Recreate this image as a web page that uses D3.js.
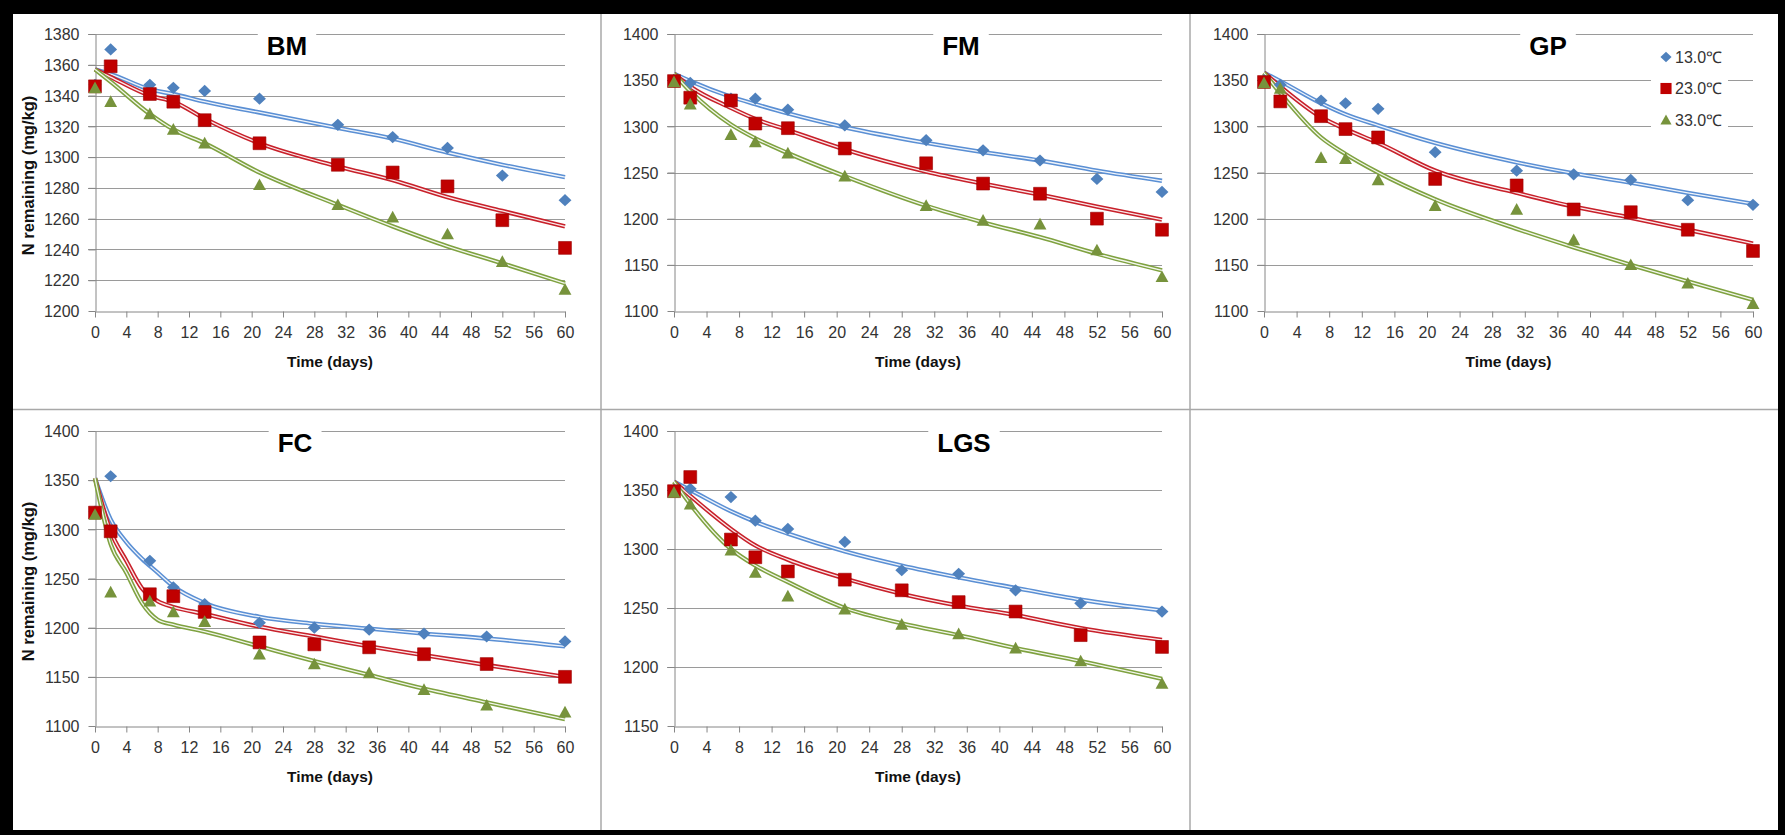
<!DOCTYPE html>
<html>
<head>
<meta charset="utf-8">
<script src="https://cdn.jsdelivr.net/npm/d3@7"></script>
<style>
  body { margin: 0; background: #000; }
  svg { display: block; }
  text { font-family: "Liberation Sans", Arial, sans-serif; }
</style>
</head>
<body>
<svg id="chart" width="1785" height="835"></svg>
<script>
// ---- data ----
const panelNames = ["BM", "FM", "GP", "FC", "LGS"];
const tempLabels = ["13.0℃", "23.0℃", "33.0℃"];

const xTicks = [0, 4, 8, 12, 16, 20, 24, 28, 32, 36, 40, 44, 48, 52, 56, 60];
const yTicksBM = [1200, 1220, 1240, 1260, 1280, 1300, 1320, 1340, 1360, 1380];
const yTicksFull = [1100, 1150, 1200, 1250, 1300, 1350, 1400];
const yTicksLGS = [1150, 1200, 1250, 1300, 1350, 1400];

// sampling days
const daysA = [0, 2, 7, 10, 14, 21, 31, 38, 45, 52, 60];
const daysB = [0, 2, 7, 10, 14, 21, 28, 35, 42, 50, 60];
const fitDaysFC = [0, 2, 4, 6, 8, 10, 14, 21, 28, 35, 42, 50, 60];

// measured N remaining (mg/kg)
const bm13 = [1347, 1370, 1347, 1345, 1343, 1338, 1321, 1313, 1306, 1288, 1272];
const bm23 = [1346, 1359, 1341, 1336, 1324, 1309, 1295, 1290, 1281, 1259, 1241];
const bm33 = [1345, 1336, 1328, 1318, 1309, 1282, 1269, 1261, 1250, 1232, 1214];
const fm13 = [1350, 1347, 1330, 1330, 1318, 1301, 1285, 1274, 1263, 1243, 1229];
const fm23 = [1349, 1331, 1328, 1303, 1298, 1276, 1260, 1238, 1227, 1200, 1188];
const fm33 = [1348, 1324, 1291, 1283, 1271, 1246, 1214, 1198, 1194, 1166, 1137];
const gp13 = [1350, 1345, 1328, 1325, 1319, 1272, 1252, 1248, 1242, 1220, 1215];
const gp23 = [1348, 1327, 1311, 1297, 1288, 1243, 1236, 1210, 1207, 1188, 1165];
const gp33 = [1347, 1341, 1266, 1265, 1242, 1214, 1210, 1177, 1150, 1130, 1108];
const fc13 = [1318, 1354, 1268, 1241, 1224, 1205, 1200, 1198, 1194, 1191, 1186];
const fc23 = [1317, 1298, 1234, 1232, 1216, 1185, 1183, 1180, 1173, 1163, 1150];
const fc33 = [1315, 1236, 1227, 1216, 1206, 1173, 1163, 1154, 1137, 1121, 1114];
const lgs13 = [1350, 1351, 1344, 1324, 1317, 1306, 1282, 1279, 1265, 1254, 1247];
const lgs23 = [1349, 1361, 1308, 1293, 1281, 1274, 1265, 1255, 1247, 1227, 1217];
const lgs33 = [1348, 1338, 1299, 1280, 1260, 1249, 1236, 1228, 1216, 1205, 1186];

// fitted curves, read at the sampling days
const bmFit13 = [1357, 1354, 1344, 1341, 1336, 1329, 1319, 1312, 1303, 1295, 1287];
const bmFit23 = [1357, 1352, 1340, 1336, 1325, 1309, 1294, 1285, 1274, 1265, 1255];
const bmFit33 = [1357, 1349, 1328, 1318, 1309, 1290, 1269, 1255, 1242, 1231, 1218];
const fmFit13 = [1357, 1349, 1332, 1324, 1314, 1299, 1282, 1272, 1263, 1252, 1241];
const fmFit23 = [1357, 1343, 1320, 1308, 1296, 1275, 1251, 1238, 1226, 1213, 1199];
const fmFit33 = [1357, 1338, 1302, 1287, 1271, 1246, 1214, 1196, 1180, 1162, 1144];
const gpFit13 = [1358, 1349, 1325, 1313, 1301, 1282, 1261, 1249, 1239, 1228, 1216];
const gpFit23 = [1358, 1343, 1310, 1297, 1282, 1252, 1228, 1213, 1201, 1188, 1173];
const gpFit33 = [1358, 1336, 1288, 1270, 1250, 1221, 1189, 1169, 1150, 1132, 1112];
const fcFit13 = [1352, 1310, 1287, 1270, 1256, 1242, 1225, 1211, 1204, 1199, 1194, 1189, 1181];
const fcFit23 = [1352, 1298, 1268, 1240, 1227, 1221, 1214, 1201, 1191, 1181, 1172, 1162, 1150];
const fcFit33 = [1352, 1285, 1256, 1225, 1208, 1203, 1196, 1181, 1166, 1152, 1138, 1124, 1107];
const lgsFit13 = [1357, 1350, 1332, 1323, 1313, 1298, 1286, 1276, 1267, 1257, 1248];
const lgsFit23 = [1357, 1345, 1317, 1303, 1291, 1275, 1262, 1252, 1244, 1233, 1223];
const lgsFit33 = [1357, 1338, 1300, 1286, 1272, 1250, 1237, 1227, 1216, 1205, 1190];

// ---- assemble panels ----
const panels = [
  { name: panelNames[0], yTicks: yTicksBM, days: daysA, obs: [bm13, bm23, bm33], fitDays: daysA, fits: [bmFit13, bmFit23, bmFit33] },
  { name: panelNames[1], yTicks: yTicksFull, days: daysA, obs: [fm13, fm23, fm33], fitDays: daysA, fits: [fmFit13, fmFit23, fmFit33] },
  { name: panelNames[2], yTicks: yTicksFull, days: daysA, obs: [gp13, gp23, gp33], fitDays: daysA, fits: [gpFit13, gpFit23, gpFit33] },
  { name: panelNames[3], yTicks: yTicksFull, days: daysB, obs: [fc13, fc23, fc33], fitDays: fitDaysFC, fits: [fcFit13, fcFit23, fcFit33] },
  { name: panelNames[4], yTicks: yTicksLGS, days: daysB, obs: [lgs13, lgs23, lgs33], fitDays: daysB, fits: [lgsFit13, lgsFit23, lgsFit33] }
];

// plot frames in page pixels
const frames = [
  { x0: 95, x1: 565, y0: 34, y1: 311, titleX: 287, yTitle: true },
  { x0: 674, x1: 1162, y0: 34, y1: 311, titleX: 961 },
  { x0: 1264, x1: 1753, y0: 34, y1: 311, titleX: 1548, legend: true },
  { x0: 95, x1: 565, y0: 431, y1: 726, titleX: 295, yTitle: true },
  { x0: 674, x1: 1162, y0: 431, y1: 726, titleX: 964 }
];

const markerColor = ["#4f81bd", "#c00000", "#77933c"];
const lineColor = ["#5a8fd4", "#c8202a", "#7fa240"];
const gridColor = "#9a9a9a";
const axisColor = "#868686";
const tickText = "#333";

// marker shapes
const diamond = {
  draw(ctx, size) {
    const r = Math.sqrt(size) / 2;
    ctx.moveTo(0, -r * 0.95); ctx.lineTo(r, 0); ctx.lineTo(0, r * 0.95); ctx.lineTo(-r, 0); ctx.closePath();
  }
};
const square = {
  draw(ctx, size) {
    const r = Math.sqrt(size) / 2;
    ctx.rect(-r, -r, 2 * r, 2 * r);
  }
};
const triangle = {
  draw(ctx, size) {
    const r = Math.sqrt(size) / 2;
    ctx.moveTo(0, -r); ctx.lineTo(r, r * 0.82); ctx.lineTo(-r, r * 0.82); ctx.closePath();
  }
};
const shapes = [diamond, square, triangle];
const shapeSize = [165, 165, 165];

const svg = d3.select("#chart");

// black frame with white sheet
svg.append("rect").attr("width", 1785).attr("height", 835).attr("fill", "#000");
svg.append("rect").attr("x", 13).attr("y", 14).attr("width", 1765).attr("height", 816).attr("fill", "#fff");

// cell dividers
const divider = svg.append("g").attr("stroke", "#a8a8a8").attr("stroke-width", 1.5);
divider.append("line").attr("x1", 601).attr("x2", 601).attr("y1", 14).attr("y2", 830);
divider.append("line").attr("x1", 1190).attr("x2", 1190).attr("y1", 14).attr("y2", 830);
divider.append("line").attr("x1", 13).attr("x2", 1778).attr("y1", 409.5).attr("y2", 409.5);

panels.forEach((p, i) => {
  const f = frames[i];
  const x = d3.scaleLinear().domain([0, 60]).range([f.x0, f.x1]);
  const y = d3.scaleLinear().domain(d3.extent(p.yTicks)).range([f.y1, f.y0]);
  const g = svg.append("g");

  // gridlines (with the outward tick on the left)
  g.append("g")
    .selectAll("line")
    .data(p.yTicks.slice(1))
    .join("line")
    .attr("x1", f.x0 - 7).attr("x2", f.x1)
    .attr("y1", d => Math.round(y(d)) + 0.5).attr("y2", d => Math.round(y(d)) + 0.5)
    .attr("stroke", gridColor).attr("stroke-width", 1);

  // y axis
  const yAxis = g.append("g")
    .attr("transform", `translate(${f.x0 + 0.5},0)`)
    .call(d3.axisLeft(y).tickValues(p.yTicks).tickSize(7).tickSizeOuter(0).tickPadding(9).tickFormat(d3.format("d")));
  // x axis
  const xAxis = g.append("g")
    .attr("transform", `translate(0,${Math.round(f.y1) + 0.5})`)
    .call(d3.axisBottom(x).tickValues(xTicks).tickSize(6).tickSizeOuter(0).tickPadding(9).tickFormat(d3.format("d")));

  [yAxis, xAxis].forEach(a => {
    a.select(".domain").attr("stroke", axisColor);
    a.selectAll(".tick line").attr("stroke", axisColor);
    a.selectAll(".tick text").attr("fill", tickText).attr("font-size", 16)
      .attr("font-family", "'Liberation Sans', Arial, sans-serif");
  });
  yAxis.selectAll(".tick text").attr("dy", "0.36em");

  // axis titles
  g.append("text")
    .attr("x", (f.x0 + f.x1) / 2).attr("y", f.y1 + 56)
    .attr("text-anchor", "middle").attr("font-size", 15.5).attr("font-weight", "bold").attr("fill", "#111")
    .text("Time (days)");
  if (f.yTitle) {
    g.append("text")
      .attr("transform", `translate(34,${(f.y0 + f.y1) / 2 + 3}) rotate(-90)`)
      .attr("text-anchor", "middle").attr("font-size", 16.5).attr("font-weight", "bold").attr("fill", "#111")
      .text("N remaining (mg/kg)");
  }

  // panel title on a white box over the top gridline
  const titleBox = g.append("rect").attr("fill", "#fff");
  const title = g.append("text")
    .attr("x", f.titleX).attr("y", f.y0 + 21)
    .attr("text-anchor", "middle").attr("font-size", 26).attr("font-weight", "bold").attr("fill", "#000")
    .text(p.name);
  const bb = title.node().getBBox();
  titleBox.attr("x", bb.x - 9).attr("y", f.y0 - 6).attr("width", bb.width + 18).attr("height", 30);

  // legend box
  if (f.legend) {
    g.append("rect").attr("x", 1651).attr("y", 42).attr("width", 77).attr("height", 94).attr("fill", "#fff");
    tempLabels.forEach((t, k) => {
      const cy = 57 + k * 31.5;
      g.append("path")
        .attr("transform", `translate(1666,${cy})`)
        .attr("d", d3.symbol().type(shapes[k]).size(shapeSize[k] * 0.75))
        .attr("fill", markerColor[k]);
      g.append("text").attr("x", 1675).attr("y", cy).attr("dy", "0.36em")
        .attr("font-size", 16).attr("fill", tickText).text(t);
    });
  }

  // fitted curves: double line look
  const line = d3.line().x(d => x(d[0])).y(d => y(d[1])).curve(d3.curveMonotoneX);
  p.fits.forEach((fit, k) => {
    const pts = p.fitDays.map((d, j) => [d, fit[j]]);
    g.append("path").attr("d", line(pts)).attr("fill", "none")
      .attr("stroke", lineColor[k]).attr("stroke-width", 4.4);
    g.append("path").attr("d", line(pts)).attr("fill", "none")
      .attr("stroke", "#fff").attr("stroke-width", 1.3).attr("stroke-opacity", 0.9);
  });

  // observed markers
  p.obs.forEach((vals, k) => {
    g.append("g")
      .selectAll("path")
      .data(p.days.map((d, j) => [d, vals[j]]))
      .join("path")
      .attr("transform", d => `translate(${x(d[0])},${y(d[1])})`)
      .attr("d", d3.symbol().type(shapes[k]).size(shapeSize[k]))
      .attr("fill", markerColor[k])
      .attr("stroke", k === 1 ? "#9a0000" : "none").attr("stroke-width", 0.6);
  });
});
</script>
</body>
</html>
